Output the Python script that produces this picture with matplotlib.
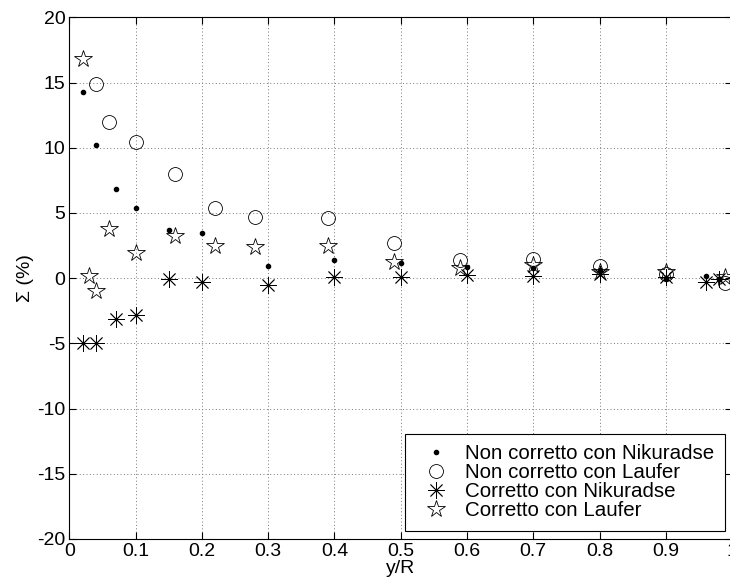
import numpy as np
from matplotlib import pyplot as plt

plt.rcParams["font.family"] = ["Liberation Sans", "DejaVu Sans"]
plt.rcParams["axes.unicode_minus"] = False

# Non corretto con Nikuradse / Corretto con Nikuradse
x_nik = [0.02, 0.04, 0.07, 0.10, 0.15, 0.20, 0.30, 0.40, 0.50, 0.60, 0.70, 0.80, 0.90, 0.96, 0.98]
nc_nik = [14.25, 10.2, 6.85, 5.35, 3.7, 3.5, 0.95, 1.4, 1.15, 0.85, 0.75, 0.65, -0.1, 0.2, -0.1]
c_nik = [-4.95, -5.0, -3.1, -2.85, -0.1, -0.3, -0.55, 0.05, 0.1, 0.25, 0.15, 0.3, 0.1, -0.3, -0.1]

# Non corretto con Laufer
x_lauf_nc = [0.04, 0.06, 0.10, 0.16, 0.22, 0.28, 0.39, 0.49, 0.59, 0.70, 0.80, 0.90, 0.99]
nc_lauf = [14.85, 12.0, 10.45, 8.0, 5.4, 4.7, 4.65, 2.7, 1.4, 1.5, 0.9, 0.35, -0.4]

# Corretto con Laufer
x_lauf_c = [0.02, 0.03, 0.04, 0.06, 0.10, 0.16, 0.22, 0.28, 0.39, 0.49, 0.59, 0.70, 0.80, 0.90, 0.99]
c_lauf = [16.8, 0.15, -0.95, 3.8, 1.9, 3.2, 2.5, 2.4, 2.5, 1.25, 0.75, 1.0, 0.5, 0.45, 0.1]

fig = plt.figure(figsize=(7.30, 5.87), dpi=100)
ax = fig.add_axes([0.0951, 0.0818, 0.9077, 0.8887])

ax.plot(x_nik, nc_nik, linestyle="none", marker="o", markersize=3,
        color="black", label="Non corretto con Nikuradse")
ax.plot(x_lauf_nc, nc_lauf, linestyle="none", marker="o", markersize=10,
        markerfacecolor="none", markeredgecolor="black", markeredgewidth=0.6,
        label="Non corretto con Laufer")
ax.plot(x_nik, c_nik, linestyle="none", marker=(8, 2, 0), markersize=12,
        color="black", markeredgewidth=0.6, label="Corretto con Nikuradse")
ax.plot(x_lauf_c, c_lauf, linestyle="none", marker="*", markersize=13,
        markerfacecolor="none", markeredgecolor="black", markeredgewidth=0.6,
        label="Corretto con Laufer")

ax.set_xlim(0, 1)
ax.set_ylim(-20, 20)
ax.set_xticks(np.arange(0, 1.01, 0.1))
ax.set_xticklabels(["0", "0.1", "0.2", "0.3", "0.4", "0.5", "0.6", "0.7", "0.8", "0.9", "1"])
ax.set_yticks(np.arange(-20, 21, 5))
ax.tick_params(direction="in", top=True, right=True, labelsize=14, length=5, width=0.8, pad=3)
ax.grid(True, linestyle=(0, (1, 2.5)), color="#777777", linewidth=0.7)
for s in ax.spines.values():
    s.set_linewidth(0.8)

ax.set_xlabel("y/R", fontsize=14, labelpad=0)
ax.set_ylabel("Σ (%)", fontsize=14, labelpad=2)

leg = ax.legend(loc="lower right", fontsize=14.8, frameon=True, fancybox=False,
                edgecolor="black", framealpha=1, borderpad=0.5, labelspacing=0.0,
                handlelength=2.05, handletextpad=0.4, borderaxespad=0,
                bbox_to_anchor=(0.989, 0.016))
leg.get_frame().set_linewidth(0.8)

plt.savefig("out.png", dpi=100)
